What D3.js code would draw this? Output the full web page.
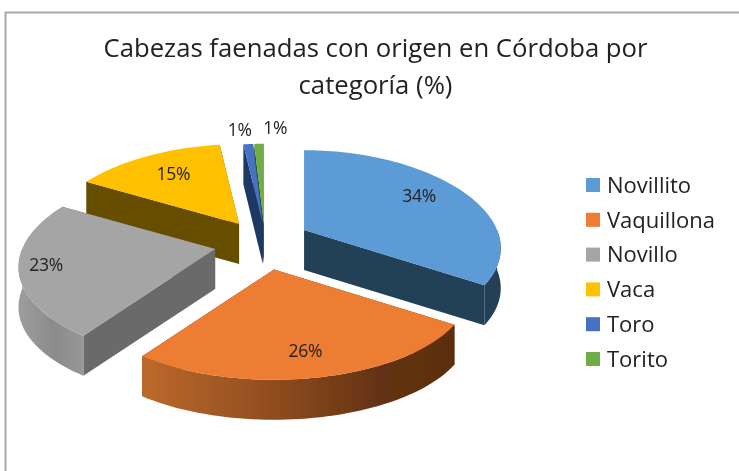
<!DOCTYPE html>
<html><head><meta charset="utf-8">
<script src="https://cdn.jsdelivr.net/npm/d3@7"></script>
<style>html,body{margin:0;padding:0;background:#fff;overflow:hidden}svg{display:block}
text{font-family:"Open Sans",sans-serif;fill:#222}</style></head><body>
<script>
const categories = ["Novillito","Vaquillona","Novillo","Vaca","Toro","Torito"];
const values = [34,26,23,15,1,1];
const titleLines = ["Cabezas faenadas con origen en Córdoba por","categoría (%)"];

const W=739,H=471;
const colors=["#5b9bd5","#ed7d31","#a5a5a5","#ffc000","#4472c4","#70ad47"];
const wallColors=["#223f57","#6a3a15","#6b6b6b","#664d00","#1f3864","#2f4f20"];
// scene layout
const cx=262,cy=243,rx=193,ry=95,perspX=0.2,perspY=0.16,depth=40,ex=48,ey=27;
const explodeK=[1,1,1,0.85,0.72,0.72];
const sliceShiftX=[0,3,0,0,4,3];
const labelFrac=[0.72,0.77,0.86,0.66,1.17,1.17];
const labelShift=[[5,-4],[-2,-2],[0,-2],[-6,-5],[-6,-1],[17,-2]];
const drawOrder=[5,4,3,0,2,1];

const svg=d3.select("body").append("svg").attr("width",W).attr("height",H);
const defs=svg.append("defs");
defs.append("filter").attr("id","soft").append("feGaussianBlur").attr("stdDeviation",0.5);

function grad(id,x1,x2,stops){
  const g=defs.append("linearGradient").attr("id",id).attr("gradientUnits","userSpaceOnUse")
    .attr("x1",x1).attr("x2",x2).attr("y1",0).attr("y2",0);
  stops.forEach(([o,c])=>g.append("stop").attr("offset",o).attr("stop-color",c));
}
grad("wallOrange",140,458,[[0,"#bd6a2c"],[0.45,"#8c4a1e"],[0.75,"#643312"],[1,"#5a2e10"]]);
grad("wallGray",18,90,[[0,"#9e9e9e"],[0.5,"#8b8b8b"],[1,"#9a9a9a"]]);

const root=svg.append("g");
root.append("path").attr("d",`M${W+2},12.5H5.5V${H+2}`).attr("fill","none")
  .attr("stroke","#a8a8a8").attr("stroke-width",2);

const pie=d3.pie().sort(null).value(d=>d)(values);
const line=d3.line();

function project(theta,frac,ox,oy,dz=0){
  const c=Math.cos(theta);
  return [cx+ox+rx*frac*Math.sin(theta)*(1-perspX*c), cy+oy-ry*frac*c*(1-perspY*c)+dz];
}
function arcPts(a0,a1,ox,oy,dz=0){
  const n=Math.max(2,Math.ceil((a1-a0)/0.03));
  return d3.range(n+1).map(i=>project(a0+(a1-a0)*i/n,1,ox,oy,dz));
}
const sliceG=root.append("g");
drawOrder.forEach(i=>{
  const p=pie[i],mid=(p.startAngle+p.endAngle)/2;
  const ox=ex*explodeK[i]*Math.sin(mid)+sliceShiftX[i],oy=-ey*explodeK[i]*Math.cos(mid);
  const g=sliceG.append("g");
  const apex=project(0,0,ox,oy),apexB=project(0,0,ox,oy,depth);
  [p.startAngle,p.endAngle].forEach(a=>{
    g.append("path").attr("fill",wallColors[i])
     .attr("d",line([apex,project(a,1,ox,oy),project(a,1,ox,oy,depth),apexB])+"Z");
  });
  // outer wall: only the front half of the rim faces the viewer
  const a0=Math.max(p.startAngle,Math.PI/2),a1=Math.min(p.endAngle,Math.PI*1.5);
  if(a1>a0){
    const top=arcPts(a0,a1,ox,oy),bot=arcPts(a0,a1,ox,oy,depth).reverse();
    g.append("path").attr("d",line(top.concat(bot))+"Z")
      .attr("fill",i===1?"url(#wallOrange)":i===2?"url(#wallGray)":wallColors[i]);
  }
  g.append("path").attr("fill",colors[i])
    .attr("d",line([apex].concat(arcPts(p.startAngle,p.endAngle,ox,oy)))+"Z");
  const [lx,ly]=project(mid,labelFrac[i],ox,oy);
  p.lx=lx+labelShift[i][0];p.ly=ly+labelShift[i][1];
});
root.append("g").selectAll("text").data(pie).join("text")
  .attr("x",d=>d.lx).attr("y",d=>d.ly).attr("dy","0.35em").attr("text-anchor","middle")
  .attr("font-size",17.5).attr("letter-spacing",-0.3).text(d=>d.value+"%");

root.append("g").selectAll("text").data(titleLines).join("text")
  .attr("x",375.5).attr("y",(d,i)=>57+i*37).attr("text-anchor","middle")
  .attr("font-size",25.7).text(d=>d);

const ly=d3.scalePoint().domain(categories).range([185,359]);
const leg=root.append("g").selectAll("g").data(categories).join("g")
  .attr("transform",d=>`translate(586,${ly(d)})`);
leg.append("rect").attr("y",-7).attr("width",14).attr("height",14).attr("fill",(d,i)=>colors[i]);
leg.append("text").attr("x",21).attr("dy","0.35em").attr("font-size",22).text(d=>d);
root.attr("filter","url(#soft)");
</script></body></html>
